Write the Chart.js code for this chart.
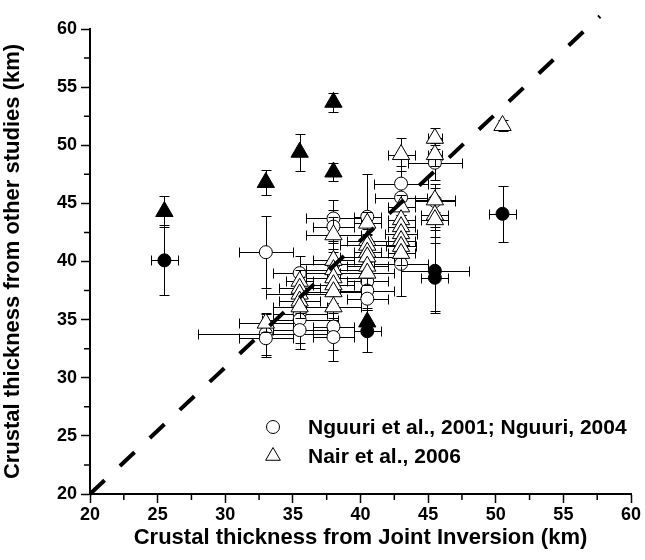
<!DOCTYPE html>
<html>
<head>
<meta charset="utf-8">
<script src="https://cdn.jsdelivr.net/npm/chart.js@4.4.1/dist/chart.umd.min.js"></script>
<style>
  html, body { margin: 0; padding: 0; background: #fff; }
  #wrap { width: 645px; height: 560px; }
</style>
</head>
<body>
<div id="wrap"><canvas id="thicknessChart" width="645" height="560"></canvas></div>
<script>
// axis ticks
var xTicks = [20, 25, 30, 35, 40, 45, 50, 55, 60];
var yTicks = [20, 25, 30, 35, 40, 45, 50, 55, 60];

// Nguuri et al., 2001; Nguuri, 2004 (open circles)
var nguuriX    = [33, 33, 33, 35.5, 35.5, 35.5, 35.5, 38, 38, 38, 38, 38, 40.5, 40.5, 40.5, 40.5, 43, 43, 43, 45.5, 45.5];
var nguuriY    = [40.8, 33.8, 33.4, 39.0, 35.5, 35.0, 34.1, 43.7, 43.0, 39.8, 34.4, 33.5, 43.85, 38.3, 37.5, 36.8, 46.7, 45.5, 39.8, 48.5, 45.2];
var nguuriXErr = [2, 5, 2, 2, 2, 2.8, 2, 2, 1.5, 2.5, 1.5, 1.5, 1, 1.5, 2, 1.5, 2, 1.9, 2, 2, 1.5];
var nguuriYErr = [3.1, 1.8, 1.6, 1.5, 1.5, 2, 1.6, 1.6, 1.4, 2, 2, 2.1, 3.7, 1.5, 1.5, 2, 1.5, 1.5, 2.8, 1.5, 1.5];

// Nair et al., 2006 (open triangles)
var nairX    = [33, 35.5, 35.5, 35.5, 35.5, 35.5, 38, 38, 38, 38, 38, 38, 38, 40.5, 40.5, 40.5, 40.5, 40.5, 40.5, 40.5, 43, 43, 43, 43, 43, 43, 43, 43, 45.5, 45.5, 45.5, 45.5, 45.5, 50.5];
var nairY    = [34.7, 38.3, 37.7, 37.2, 36.6, 36.1, 42.3, 40.1, 39.3, 38.6, 38.0, 37.4, 36.1, 43.3, 41.8, 41.4, 40.8, 40.4, 39.6, 39.0, 49.2, 44.7, 43.6, 43.0, 42.4, 41.8, 41.3, 40.7, 50.6, 49.2, 45.3, 44.0, 43.6, 51.7];
var nairXErr = [2, 1, 1.5, 2.5, 1.5, 2, 2, 1.5, 2, 2, 1.5, 2, 2, 1, 1.5, 2, 1, 2, 1.5, 2, 1, 1, 1, 1, 1.2, 1, 1.1, 1, 0.5, 0.5, 1.5, 1, 1, 0];
var nairYErr = [0.8, 1, 1, 1, 1, 1, 1.5, 1, 1, 1, 1, 1, 1, 1, 1, 1, 1, 1, 1, 1, 1.4, 1, 1, 1, 1, 1, 1, 1, 0.9, 1, 1, 1, 1.5, 0.5];

// solid triangles
var solidTriX    = [25.5, 33, 35.5, 38, 38, 40.5];
var solidTriY    = [44.3, 46.8, 49.4, 53.7, 47.7, 34.8];
var solidTriXErr = [0, 0, 0, 0, 0, 0];
var solidTriYErr = [1.3, 1.1, 1.6, 0.8, 0.8, 1.0];

// solid circles
var solidCircX    = [25.5, 40.5, 45.5, 45.5, 50.5];
var solidCircY    = [40.1, 34.0, 39.2, 38.6, 44.1];
var solidCircXErr = [1, 1, 2.5, 1, 1];
var solidCircYErr = [3, 1.8, 3.5, 3, 2.4];

// dashed reference line
var refLineX = [20, 57.7];
var refLineY = [20, 61.1];

var FONT = '"Liberation Sans", Arial, sans-serif';

function toPoints(xs, ys, xe, ye) {
  return xs.map(function (x, i) {
    return { x: x, y: ys[i], xErr: xe ? xe[i] : 0, yErr: ye ? ye[i] : 0 };
  });
}

var errorBars = {
  id: "errorBars",
  beforeDatasetDraw: function (chart, args) {
    var ds = chart.data.datasets[args.index];
    if (!ds.errorBars) return;
    var sx = chart.scales.x, sy = chart.scales.y, c = chart.ctx, cap = 5;
    c.save();
    c.strokeStyle = "#000";
    c.lineWidth = 1;
    ds.data.forEach(function (p) {
      var px = Math.round(sx.getPixelForValue(p.x)) + 0.5;
      var py = Math.round(sy.getPixelForValue(p.y)) + 0.5;
      c.beginPath();
      if (p.yErr) {
        var t = Math.round(sy.getPixelForValue(p.y + p.yErr)) + 0.5;
        var b = Math.round(sy.getPixelForValue(p.y - p.yErr)) + 0.5;
        c.moveTo(px, t); c.lineTo(px, b);
        c.moveTo(px - cap, t); c.lineTo(px + cap, t);
        c.moveTo(px - cap, b); c.lineTo(px + cap, b);
      }
      if (p.xErr) {
        var l = Math.round(sx.getPixelForValue(p.x - p.xErr)) + 0.5;
        var r = Math.round(sx.getPixelForValue(p.x + p.xErr)) + 0.5;
        c.moveTo(l, py); c.lineTo(r, py);
        c.moveTo(l, py - cap); c.lineTo(l, py + cap);
        c.moveTo(r, py - cap); c.lineTo(r, py + cap);
      }
      c.stroke();
    });
    c.restore();
  }
};

// minor ticks half-way between labelled ticks
var minorTicks = {
  id: "minorTicks",
  afterDraw: function (chart) {
    var sx = chart.scales.x, sy = chart.scales.y, c = chart.ctx, a = chart.chartArea;
    c.save();
    c.strokeStyle = "#000";
    c.lineWidth = 1.5;
    c.beginPath();
    for (var v = 22.5; v < 60; v += 5) {
      var px = sx.getPixelForValue(v), py = sy.getPixelForValue(v);
      c.moveTo(px, a.bottom); c.lineTo(px, a.bottom + 6);
      c.moveTo(a.left, py); c.lineTo(a.left - 6, py);
    }
    c.stroke();
    c.restore();
  }
};

// legend drawn inside the plot
var innerLegend = {
  id: "innerLegend",
  afterDraw: function (chart) {
    var c = chart.ctx, a = chart.chartArea;
    var sx = a.left + 183, tx = a.left + 218;
    var rows = [
      { y: a.top + 398, style: "circle", text: "Nguuri et al., 2001; Nguuri, 2004" },
      { y: a.top + 427, style: "triangle", text: "Nair et al., 2006" }
    ];
    c.save();
    c.font = "bold 21px " + FONT;
    c.textBaseline = "middle";
    rows.forEach(function (r) {
      c.fillStyle = "#fff";
      c.strokeStyle = "#000";
      c.lineWidth = 1;
      Chart.helpers.drawPoint(c, {
        pointStyle: r.style,
        radius: r.style === "circle" ? 6.5 : 8.5,
        rotation: 0,
        borderWidth: 1
      }, sx, r.y);
      c.fillStyle = "#000";
      c.fillText(r.text, tx, r.y + 1);
    });
    c.restore();
  }
};

var ctx = document.getElementById("thicknessChart").getContext("2d");
ctx.canvas.style.width = "645px";
ctx.canvas.style.height = "560px";

var thicknessChart = new Chart(ctx, {
  type: "scatter",
  data: {
    datasets: [
      {
        type: "line",
        label: "1:1",
        data: toPoints(refLineX, refLineY),
        borderColor: "#000",
        borderWidth: 4,
        borderDash: [20, 21],
        pointRadius: 0,
        fill: false,
        clip: false
      },
      {
        label: "solid circles",
        data: toPoints(solidCircX, solidCircY, solidCircXErr, solidCircYErr),
        errorBars: true,
        pointStyle: "circle",
        pointRadius: 6.5,
        backgroundColor: "#000",
        borderColor: "#000",
        borderWidth: 1
      },
      {
        label: "solid triangles",
        data: toPoints(solidTriX, solidTriY, solidTriXErr, solidTriYErr),
        errorBars: true,
        pointStyle: "triangle",
        pointRadius: 10,
        backgroundColor: "#000",
        borderColor: "#000",
        borderWidth: 1
      },
      {
        label: "Nair et al., 2006",
        data: toPoints(nairX, nairY, nairXErr, nairYErr),
        errorBars: true,
        pointStyle: "triangle",
        pointRadius: 10,
        backgroundColor: "#fff",
        borderColor: "#000",
        borderWidth: 1
      },
      {
        label: "Nguuri et al., 2001; Nguuri, 2004",
        data: toPoints(nguuriX, nguuriY, nguuriXErr, nguuriYErr),
        errorBars: true,
        pointStyle: "circle",
        pointRadius: 6.5,
        backgroundColor: "#fff",
        borderColor: "#000",
        borderWidth: 1
      }
    ]
  },
  options: {
    responsive: false,
    animation: false,
    events: [],
    layout: { padding: { left: 0, top: 29, right: 14, bottom: 0 } },
    plugins: {
      legend: { display: false },
      tooltip: { enabled: false }
    },
    scales: {
      x: {
        type: "linear",
        min: 20,
        max: 60,
        afterBuildTicks: function (s) { s.ticks = xTicks.map(function (v) { return { value: v }; }); },
        afterFit: function (s) { s.height = 66; },
        border: { display: true, color: "#000", width: 2 },
        grid: { drawOnChartArea: false, drawTicks: true, tickLength: 9, tickColor: "#000", tickWidth: 1.5 },
        ticks: { color: "#000", padding: 1, font: { family: FONT, size: 18, weight: "bold" } },
        title: {
          display: true,
          text: "Crustal thickness from Joint Inversion (km)",
          color: "#000",
          padding: { top: 0, bottom: 9 },
          font: { family: FONT, size: 22, weight: "bold" }
        }
      },
      y: {
        type: "linear",
        min: 20,
        max: 60,
        afterBuildTicks: function (s) { s.ticks = yTicks.map(function (v) { return { value: v }; }); },
        afterFit: function (s) { s.width = 90; },
        border: { display: true, color: "#000", width: 2 },
        grid: { drawOnChartArea: false, drawTicks: true, tickLength: 9, tickColor: "#000", tickWidth: 1.5 },
        ticks: { color: "#000", padding: 4, font: { family: FONT, size: 18, weight: "bold" } },
        title: {
          display: true,
          text: "Crustal thickness from other studies (km)",
          color: "#000",
          padding: { top: 0, bottom: 8 },
          font: { family: FONT, size: 22, weight: "bold" }
        }
      }
    }
  },
  plugins: [errorBars, minorTicks, innerLegend]
});
</script>
</body>
</html>
